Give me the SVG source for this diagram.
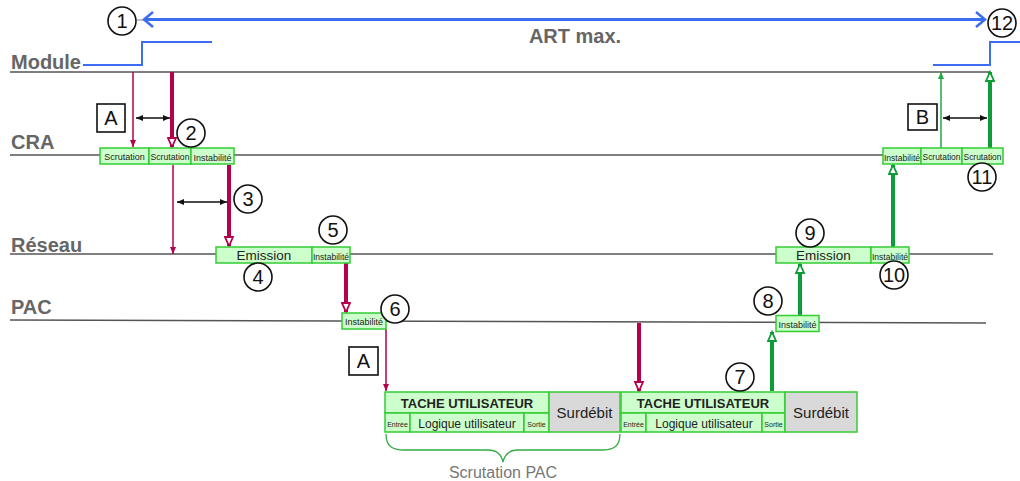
<svg xmlns="http://www.w3.org/2000/svg" width="1020" height="481" viewBox="0 0 1020 481">
<style>
.lane{stroke:#555;stroke-width:1.5;fill:none}
.lbl{font-family:"Liberation Sans",Arial,sans-serif;font-weight:bold;fill:#666;font-size:20px}
.box{fill:#ccffcc;stroke:#33cc33;stroke-width:1.5}
.grey{fill:#d9d9d9;stroke:#33cc33;stroke-width:1.5}
.t{font-family:"Liberation Sans",Arial,sans-serif;fill:#222;text-anchor:middle}
.s{font-size:9px}
.circ{fill:#fff;stroke:#111;stroke-width:1.6}
.num{font-family:"Liberation Sans",Arial,sans-serif;font-size:20px;fill:#111;text-anchor:middle}
.sq{fill:#fff;stroke:#111;stroke-width:1.6}
.rt{stroke:#b5004b;stroke-width:1.5;fill:none}
.rT{stroke:#b5004b;stroke-width:4;fill:none}
.gt{stroke:#1faa44;stroke-width:1.5;fill:none}
.gT{stroke:#0c9c38;stroke-width:4;fill:none}
.dbl{stroke:#111;stroke-width:1.3;fill:none}
.blue{stroke:#3b6cf2;fill:none}
</style>
<defs>
<marker id="hR" markerUnits="userSpaceOnUse" viewBox="-1 -1 12 10" markerWidth="12" markerHeight="10" refX="9" refY="4" orient="auto"><path d="M0,0 L9,4 L0,8 z" fill="#fff" stroke="#b5004b" stroke-width="1.8"/></marker>
<marker id="hG" markerUnits="userSpaceOnUse" viewBox="-1 -1 12 10" markerWidth="12" markerHeight="10" refX="9" refY="4" orient="auto"><path d="M0,0 L9,4 L0,8 z" fill="#fff" stroke="#0c9c38" stroke-width="1.8"/></marker>
<marker id="hr" markerUnits="userSpaceOnUse" viewBox="0 0 7 6" markerWidth="7" markerHeight="6" refX="7" refY="3" orient="auto"><path d="M0,0 L7,3 L0,6 z" fill="#b5004b"/></marker>
<marker id="hg" markerUnits="userSpaceOnUse" viewBox="0 0 7 6" markerWidth="7" markerHeight="6" refX="7" refY="3" orient="auto"><path d="M0,0 L7,3 L0,6 z" fill="#1faa44"/></marker>
<marker id="hk" markerUnits="userSpaceOnUse" viewBox="0 0 7 6" markerWidth="7" markerHeight="6" refX="7" refY="3" orient="auto-start-reverse"><path d="M0,0 L7,3 L0,6 z" fill="#111"/></marker>
</defs>

<g id="lanes">
<line class="lane" x1="10" y1="72" x2="990" y2="72"/>
<line class="lane" x1="10" y1="155" x2="883" y2="155"/>
<line class="lane" x1="10" y1="254" x2="993" y2="254"/>
<line class="lane" x1="10" y1="320" x2="986" y2="323"/>
<text class="lbl" x="11" y="69">Module</text>
<text class="lbl" x="11" y="149">CRA</text>
<text class="lbl" x="11" y="252">Réseau</text>
<text class="lbl" x="11" y="314">PAC</text>
</g>

<g id="art">
<line x1="137" y1="20" x2="146" y2="20" stroke="#888" stroke-width="1"/>
<line class="blue" x1="145" y1="19.5" x2="983" y2="19.5" stroke-width="3"/>
<path class="blue" d="M153,12 L144,19.5 L153,27 M976,12 L985,19.5 L976,27" stroke-width="2.5"/>
<text class="lbl" x="575" y="43" text-anchor="middle">ART max.</text>
<path class="blue" d="M83,65 H142 V42 H212" stroke-width="2"/>
<path class="blue" d="M933,65 H990 V42 H1020" stroke-width="2"/>
</g>

<g id="connectors">
<line class="rt" x1="133" y1="72" x2="133" y2="147" marker-end="url(#hr)"/>
<line class="rT" x1="172" y1="72" x2="172" y2="147" marker-end="url(#hR)"/>
<line class="rt" x1="173" y1="165" x2="173" y2="254" marker-end="url(#hr)"/>
<line class="rT" x1="229" y1="165" x2="229" y2="246" marker-end="url(#hR)"/>
<line class="rT" x1="346" y1="263" x2="346" y2="312" marker-end="url(#hR)"/>
<line class="rt" x1="386" y1="329" x2="386" y2="391" marker-end="url(#hr)"/>
<line class="rT" x1="639" y1="323" x2="639" y2="391" marker-end="url(#hR)"/>
<line class="gT" x1="772" y1="391" x2="772" y2="332" marker-end="url(#hG)"/>
<line class="gT" x1="800" y1="316" x2="800" y2="264" marker-end="url(#hG)"/>
<line class="gT" x1="893" y1="247" x2="893" y2="165" marker-end="url(#hG)"/>
<line class="gt" x1="941" y1="148" x2="941" y2="72" marker-end="url(#hg)"/>
<line class="gT" x1="990" y1="148" x2="990" y2="72" marker-end="url(#hG)"/>
<line class="dbl" x1="136" y1="118" x2="170" y2="118" marker-start="url(#hk)" marker-end="url(#hk)"/>
<line class="dbl" x1="177" y1="202" x2="227" y2="202" marker-start="url(#hk)" marker-end="url(#hk)"/>
<line class="dbl" x1="943" y1="118" x2="987" y2="118" marker-start="url(#hk)" marker-end="url(#hk)"/>
</g>

<g id="cra-left">
<rect class="box" x="100" y="148" width="49" height="16"/>
<rect class="box" x="149" y="148" width="42" height="16"/>
<rect class="box" x="191" y="148" width="43" height="16"/>
<text class="t s" x="124.5" y="160">Scrutation</text>
<text class="t s" x="170" y="160" textLength="39" lengthAdjust="spacingAndGlyphs">Scrutation</text>
<text class="t s" x="212.5" y="160.5">Instabilité</text>
</g>

<g id="cra-right">
<rect class="box" x="883" y="148" width="38" height="16"/>
<rect class="box" x="921" y="148" width="41" height="16"/>
<rect class="box" x="962" y="148" width="41" height="16"/>
<text class="t s" x="902" y="160.5" textLength="36" lengthAdjust="spacingAndGlyphs">Instabilité</text>
<text class="t s" x="941.5" y="160" textLength="38" lengthAdjust="spacingAndGlyphs">Scrutation</text>
<text class="t s" x="982.5" y="160" textLength="38" lengthAdjust="spacingAndGlyphs">Scrutation</text>
</g>

<g id="reseau-1">
<rect class="box" x="216" y="247" width="96" height="16"/>
<rect class="box" x="312" y="247" width="38" height="16"/>
<text class="t" x="264" y="260" font-size="13.5">Emission</text>
<text class="t s" x="331" y="259.5" textLength="36" lengthAdjust="spacingAndGlyphs">Instabilité</text>
</g>

<g id="reseau-2">
<rect class="box" x="776" y="247" width="95" height="16"/>
<rect class="box" x="871" y="247" width="38" height="16"/>
<text class="t" x="823.5" y="260" font-size="13.5">Emission</text>
<text class="t s" x="890" y="259.5" textLength="36" lengthAdjust="spacingAndGlyphs">Instabilité</text>
</g>

<g id="pac-1">
<rect class="box" x="342" y="313" width="44" height="16"/>
<text class="t s" x="364" y="325" font-size="9.5">Instabilité</text>
</g>

<g id="pac-2">
<rect class="box" x="776" y="315.5" width="43" height="16"/>
<text class="t s" x="797.5" y="327.5" font-size="9.5">Instabilité</text>
</g>

<g id="tache-1">
<rect class="box" x="385" y="392" width="164" height="21"/>
<rect class="box" x="385" y="413" width="25" height="19"/>
<rect class="box" x="410" y="413" width="114" height="19"/>
<rect class="box" x="524" y="413" width="25" height="19"/>
<rect class="grey" x="549" y="392" width="71" height="40"/>
<text class="t" x="467" y="408" font-size="13" font-weight="bold">TACHE UTILISATEUR</text>
<text class="t" x="397.5" y="427" font-size="7">Entrée</text>
<text class="t" x="467" y="428" font-size="12">Logique utilisateur</text>
<text class="t" x="536.5" y="427" font-size="7">Sortie</text>
<text class="t" x="584.5" y="418" font-size="15">Surdébit</text>
</g>

<g id="tache-2">
<rect class="box" x="621" y="392" width="164" height="21"/>
<rect class="box" x="621" y="413" width="25" height="19"/>
<rect class="box" x="646" y="413" width="116" height="19"/>
<rect class="box" x="762" y="413" width="23" height="19"/>
<rect class="grey" x="785" y="392" width="72" height="40"/>
<text class="t" x="703" y="408" font-size="13" font-weight="bold">TACHE UTILISATEUR</text>
<text class="t" x="633.5" y="427" font-size="7">Entrée</text>
<text class="t" x="704" y="428" font-size="12">Logique utilisateur</text>
<text class="t" x="773.5" y="427" font-size="7">Sortie</text>
<text class="t" x="821" y="418" font-size="15">Surdébit</text>
</g>

<g id="brace">
<path d="M386,434 C386,446 392,450 404,450 H488 C496,450 501,453 503,462 C505,453 510,450 518,450 H602 C614,450 620,446 620,434" fill="none" stroke="#33aa44" stroke-width="1.3"/>
<text x="503" y="478" font-family="Liberation Sans,Arial,sans-serif" font-size="16" fill="#777" text-anchor="middle">Scrutation PAC</text>
</g>

<g id="squares">
<rect class="sq" x="97" y="104" width="28" height="28"/>
<text class="num" x="111" y="125">A</text>
<rect class="sq" x="349" y="347" width="29" height="28"/>
<text class="num" x="363.5" y="368">A</text>
<rect class="sq" x="908" y="104" width="29" height="26"/>
<text class="num" x="922.5" y="124">B</text>
</g>

<g id="numbers">
<circle class="circ" cx="122" cy="21" r="14"/><text class="num" x="122" y="28">1</text>
<circle class="circ" cx="191" cy="133" r="14"/><text class="num" x="191" y="140">2</text>
<circle class="circ" cx="248" cy="199" r="14"/><text class="num" x="248" y="206">3</text>
<circle class="circ" cx="258" cy="277" r="14"/><text class="num" x="258" y="284">4</text>
<circle class="circ" cx="333" cy="230" r="14"/><text class="num" x="333" y="237">5</text>
<circle class="circ" cx="395" cy="309" r="14"/><text class="num" x="395" y="316">6</text>
<circle class="circ" cx="740" cy="377" r="14"/><text class="num" x="740" y="384">7</text>
<circle class="circ" cx="768" cy="301" r="14"/><text class="num" x="768" y="308">8</text>
<circle class="circ" cx="810" cy="233" r="14"/><text class="num" x="810" y="240">9</text>
<circle class="circ" cx="894" cy="275" r="14"/><text class="num" x="894" y="282">10</text>
<circle class="circ" cx="982" cy="177" r="14"/><text class="num" x="982" y="184">11</text>
<circle class="circ" cx="1002" cy="23" r="14"/><text class="num" x="1002" y="30">12</text>
</g>
</svg>
